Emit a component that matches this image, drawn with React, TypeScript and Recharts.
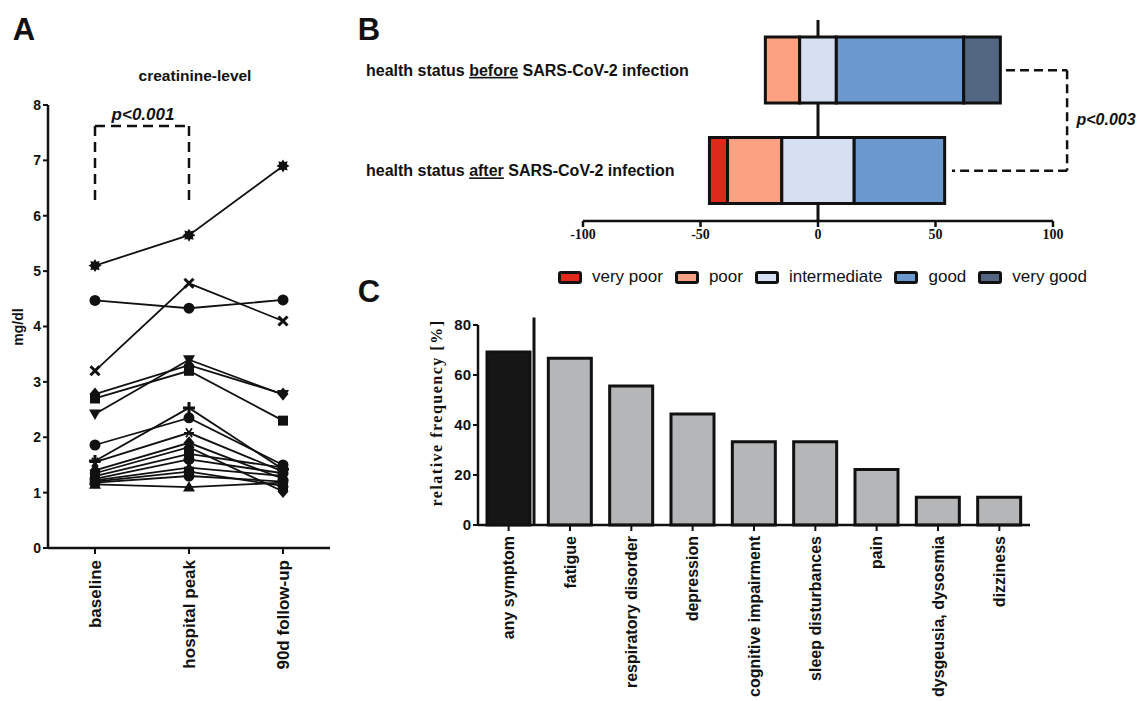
import React from 'react';
import { LineChart, Line, BarChart, Bar, Cell, XAxis, YAxis, CartesianGrid, ReferenceLine, Legend } from 'recharts';

const SANS = "'Liberation Sans', Arial, sans-serif";
const SERIF = "'Liberation Serif', 'Times New Roman', serif";
const INK = '#111';

// ---- A: creatinine per patient (baseline, hospital peak, 90d follow-up) ----
const timepoints = ['baseline', 'hospital peak', '90d follow-up'];
const pt01 = [5.1, 5.65, 6.9];
const pt02 = [4.47, 4.33, 4.48];
const pt03 = [3.2, 4.78, 4.1];
const pt04 = [2.42, 3.4, 2.77];
const pt05 = [2.7, 3.2, 2.3];
const pt06 = [2.78, 3.3, 2.78];
const pt07 = [1.57, 2.53, 1.42];
const pt08 = [1.86, 2.35, 1.5];
const pt09 = [1.55, 2.08, 1.38];
const pt10 = [1.4, 1.9, 1.25];
const pt11 = [1.35, 1.82, 1.02];
const pt12 = [1.3, 1.7, 1.45];
const pt13 = [1.25, 1.6, 1.35];
const pt14 = [1.22, 1.45, 1.3];
const pt15 = [1.18, 1.3, 1.2];
const pt16 = [1.15, 1.1, 1.18];
const pt17 = [1.2, 1.38, 1.12];
const patients = [pt01, pt02, pt03, pt04, pt05, pt06, pt07, pt08, pt09, pt10, pt11, pt12, pt13, pt14, pt15, pt16, pt17];
const markers = ['star', 'circle', 'cross', 'triDown', 'square', 'diamond', 'plus', 'circle', 'thinStar',
  'diamond', 'diamond', 'square', 'circle', 'triUp', 'circle', 'triUp', 'square'];
const creatTicks = [0, 1, 2, 3, 4, 5, 6, 7, 8];
const bracketTop = 7.62;
const bracketFoot = 6.28;

// ---- B: self-rated health status (%) ----
const statusRows = ['before', 'after'];
const statusNames = ['very poor', 'poor', 'intermediate', 'good', 'very good'];
const statusColors = ['#dd2a1b', '#fca283', '#d7dff3', '#6b98cd', '#536782'];
const statusBefore = [0, 14.6, 15.6, 54.2, 15.6];
const statusAfter = [7.7, 23.1, 30.8, 38.5, 0];
const statusTicks = [-100, -50, 0, 50, 100];
const pBracket = { before: 80, after: 57, right: 106 };

// ---- C: symptoms at follow-up ----
const symptoms = ['any symptom', 'fatigue', 'respiratory disorder', 'depression', 'cognitive impairment',
  'sleep disturbances', 'pain', 'dysgeusia, dysosmia', 'dizziness'];
const symptomFreq = [69.2, 66.7, 55.6, 44.4, 33.3, 33.3, 22.2, 11.1, 11.1];
const freqTicks = [0, 20, 40, 60, 80];
const separatorTop = 83;

const creatData = timepoints.map((t, i) => {
  const row: any = { t };
  patients.forEach((p, j) => { row[`p${j + 1}`] = p[i]; });
  return row;
});

const statusData = statusRows.map((r, i) => {
  const v = i === 0 ? statusBefore : statusAfter;
  const row: any = { row: r, base: -(v[0] + v[1] + v[2] / 2) };
  v.forEach((x, k) => { row[`s${k}`] = x; });
  return row;
});

const symptomData = symptoms.map((name, i) => ({ name, freq: symptomFreq[i] }));

const starPath = (cx: number, cy: number, ro: number, ri: number, n: number) => {
  let d = '';
  for (let i = 0; i < n * 2; i++) {
    const r = i % 2 === 0 ? ro : ri;
    const a = (Math.PI * i) / n - Math.PI / 2;
    d += `${i === 0 ? 'M' : 'L'}${cx + r * Math.cos(a)},${cy + r * Math.sin(a)}`;
  }
  return d + 'Z';
};

const Marker = ({ cx, cy, shape }: any) => {
  if (cx == null || cy == null) return null;
  switch (shape) {
    case 'circle':
      return <circle cx={cx} cy={cy} r={5.5} fill={INK} />;
    case 'square':
      return <rect x={cx - 5} y={cy - 5} width={10} height={10} fill={INK} />;
    case 'diamond':
      return <path d={`M${cx},${cy - 6.5}L${cx + 5.5},${cy}L${cx},${cy + 6.5}L${cx - 5.5},${cy}Z`} fill={INK} />;
    case 'triUp':
      return <path d={`M${cx},${cy - 6}L${cx + 6},${cy + 4.5}L${cx - 6},${cy + 4.5}Z`} fill={INK} />;
    case 'triDown':
      return <path d={`M${cx - 6},${cy - 4.5}L${cx + 6},${cy - 4.5}L${cx},${cy + 6}Z`} fill={INK} />;
    case 'cross':
      return <path d={`M${cx - 4.5},${cy - 4.5}L${cx + 4.5},${cy + 4.5}M${cx + 4.5},${cy - 4.5}L${cx - 4.5},${cy + 4.5}`} stroke={INK} strokeWidth={3} />;
    case 'plus':
      return <path d={`M${cx - 6},${cy}L${cx + 6},${cy}M${cx},${cy - 6}L${cx},${cy + 6}`} stroke={INK} strokeWidth={3} />;
    case 'thinStar':
      return <path d={`M${cx - 5},${cy}L${cx + 5},${cy}M${cx - 3},${cy - 4.5}L${cx + 3},${cy + 4.5}M${cx + 3},${cy - 4.5}L${cx - 3},${cy + 4.5}`} stroke={INK} strokeWidth={1.8} />;
    default:
      return <path d={starPath(cx, cy, 6.5, 4.2, 8)} fill={INK} />;
  }
};

const RotTick = ({ x, y, payload, fontSize, gap }: any) => (
  <text x={x} y={y} dx={-gap} dy="0.35em" transform={`rotate(-90, ${x}, ${y})`} textAnchor="end"
    fontFamily={SANS} fontWeight={700} fontSize={fontSize} fill={INK}>
    {payload.value}
  </text>
);

const StatusTick = ({ y, payload }: any) => (
  <text x={16} y={y} dy="0.35em" fontFamily={SANS} fontWeight={700} fontSize={16} fill={INK}>
    health status{' '}
    <tspan style={{ textDecoration: 'underline' }}>{payload.value}</tspan>
    {' '}SARS-CoV-2 infection
  </text>
);

// legend in the order of the rating scale (the default payload gets sorted by name)
const StatusLegend = () => (
  <div style={{ display: 'flex', alignItems: 'center', fontFamily: SANS, fontSize: 17, color: INK, whiteSpace: 'nowrap' }}>
    {statusNames.map((n, k) => (
      <div key={n} style={{ display: 'flex', alignItems: 'center', marginRight: 12 }}>
        <span style={{ width: 18, height: 7, background: statusColors[k], border: `3px solid ${INK}`, borderRadius: 3, marginRight: 10 }} />
        <span>{n}</span>
      </div>
    ))}
  </div>
);

// bar with a separator just right of the "any symptom" column, scaled from the bar itself
const SymptomBar = (props: any) => {
  const { x, y, width, height, fill, index, value } = props;
  const v = Array.isArray(value) ? value[1] - value[0] : value;
  const lx = x + width + 4;
  return (
    <g>
      <rect x={x} y={y} width={width} height={height} fill={fill} stroke={INK} strokeWidth={3} />
      {index === 0 && v > 0 && (
        <line x1={lx} x2={lx} y1={y + height - (separatorTop * height) / v} y2={y + height} stroke={INK} strokeWidth={3} />
      )}
    </g>
  );
};

const Txt = ({ x, y, size, children, style }: any) => (
  <div style={{ position: 'absolute', left: x, top: y, fontFamily: SANS, fontWeight: 700, fontSize: size, lineHeight: 1,
    color: INK, whiteSpace: 'nowrap', transform: 'translate(-50%, -50%)', ...style }}>
    {children}
  </div>
);

const axisStroke = { stroke: INK, strokeWidth: 2.5 };
const tickStroke = { stroke: INK, strokeWidth: 2 };

export default function App() {
  return (
    <div style={{ position: 'absolute', left: 0, top: 0, width: 1141, height: 701, background: '#fff', overflow: 'hidden' }}>
      {/* panel letters */}
      <Txt x={24} y={29} size={31}>A</Txt>
      <Txt x={369} y={29} size={31}>B</Txt>
      <Txt x={369} y={291} size={31}>C</Txt>

      {/* ---- A ---- */}
      <Txt x={195} y={76} size={15.5}>creatinine-level</Txt>
      <Txt x={143} y={114} size={17} style={{ fontStyle: 'italic' }}>p&lt;0.001</Txt>
      <Txt x={18} y={327} size={14} style={{ transform: 'translate(-50%, -50%) rotate(-90deg)' }}>mg/dl</Txt>
      <div style={{ position: 'absolute', left: 0, top: 0 }}>
        <LineChart width={345} height={700} data={creatData} margin={{ top: 105, right: 15, bottom: 0, left: 0 }}>
          <XAxis dataKey="t" height={152} padding={{ left: 47, right: 47 }} axisLine={axisStroke} tickLine={tickStroke}
            tickSize={6} interval={0} tick={<RotTick fontSize={17} gap={4} />} />
          <YAxis domain={[0, 8]} ticks={creatTicks} width={48} axisLine={axisStroke} tickLine={tickStroke} tickSize={5}
            tick={{ fontFamily: SANS, fontWeight: 700, fontSize: 14, fill: INK }} />
          <ReferenceLine segment={[{ x: 'baseline', y: bracketTop }, { x: 'hospital peak', y: bracketTop }]}
            stroke={INK} strokeWidth={2.5} strokeDasharray="10 6" />
          <ReferenceLine segment={[{ x: 'baseline', y: bracketTop }, { x: 'baseline', y: bracketFoot }]}
            stroke={INK} strokeWidth={2.5} strokeDasharray="10 6" />
          <ReferenceLine segment={[{ x: 'hospital peak', y: bracketTop }, { x: 'hospital peak', y: bracketFoot }]}
            stroke={INK} strokeWidth={2.5} strokeDasharray="10 6" />
          {patients.map((_, j) => (
            <Line key={j} dataKey={`p${j + 1}`} stroke={INK} strokeWidth={1.8} isAnimationActive={false} activeDot={false}
              dot={(p: any) => <Marker key={`m${j}-${p.index}`} cx={p.cx} cy={p.cy} shape={markers[j]} />} />
          ))}
        </LineChart>
      </div>

      {/* ---- B ---- */}
      <Txt x={1106} y={120} size={16} style={{ fontStyle: 'italic' }}>p&lt;0.003</Txt>
      <div style={{ position: 'absolute', left: 350, top: 0 }}>
        <BarChart layout="vertical" width={760} height={300} data={statusData} barSize={66}
          margin={{ top: 20, right: 57, bottom: 49, left: 0 }}>
          <CartesianGrid horizontal={false} verticalValues={[0]} stroke={INK} strokeWidth={3} />
          <XAxis type="number" domain={[-100, 100]} ticks={statusTicks} height={30} axisLine={axisStroke}
            tickLine={axisStroke} tickSize={6} tick={{ fontFamily: SERIF, fontWeight: 700, fontSize: 14, fill: INK }} />
          <YAxis type="category" dataKey="row" width={233} axisLine={false} tickLine={false} tick={<StatusTick />} />
          <Bar dataKey="base" stackId="s" fill="transparent" legendType="none" isAnimationActive={false} />
          {statusNames.map((n, k) => (
            <Bar key={n} dataKey={`s${k}`} name={n} stackId="s" fill={statusColors[k]} stroke={INK} strokeWidth={3}
              isAnimationActive={false} />
          ))}
          <ReferenceLine ifOverflow="visible" segment={[{ x: pBracket.before, y: 'before' }, { x: pBracket.right, y: 'before' }]}
            stroke={INK} strokeWidth={2.5} strokeDasharray="9 5" />
          <ReferenceLine ifOverflow="visible" segment={[{ x: pBracket.right, y: 'before' }, { x: pBracket.right, y: 'after' }]}
            stroke={INK} strokeWidth={2.5} strokeDasharray="9 5" />
          <ReferenceLine ifOverflow="visible" segment={[{ x: pBracket.right, y: 'after' }, { x: pBracket.after, y: 'after' }]}
            stroke={INK} strokeWidth={2.5} strokeDasharray="9 5" />
          <Legend layout="horizontal" verticalAlign="middle" align="center" content={<StatusLegend />}
            wrapperStyle={{ left: 208, top: 267, width: 'auto', height: 'auto' }} />
        </BarChart>
      </div>

      {/* ---- C ---- */}
      <Txt x={437} y={413} size={16} style={{ fontFamily: SERIF, letterSpacing: 1.5, transform: 'translate(-50%, -50%) rotate(-90deg)' }}>
        relative frequency [%]
      </Txt>
      <div style={{ position: 'absolute', left: 400, top: 300 }}>
        <BarChart width={640} height={401} data={symptomData} barSize={43} margin={{ top: 25, right: 10, bottom: 0, left: 0 }}>
          <XAxis dataKey="name" height={176} interval={0} axisLine={axisStroke} tickLine={tickStroke} tickSize={6}
            tick={<RotTick fontSize={16} gap={3} />} />
          <YAxis domain={[0, 80]} ticks={freqTicks} width={78} axisLine={axisStroke} tickLine={tickStroke} tickSize={5}
            tick={{ fontFamily: SANS, fontWeight: 700, fontSize: 15, fill: INK }} />
          <Bar dataKey="freq" isAnimationActive={false} shape={<SymptomBar />}>
            {symptomData.map((d, i) => <Cell key={d.name} fill={i === 0 ? '#151615' : '#b5b6b8'} />)}
          </Bar>
        </BarChart>
      </div>
    </div>
  );
}
